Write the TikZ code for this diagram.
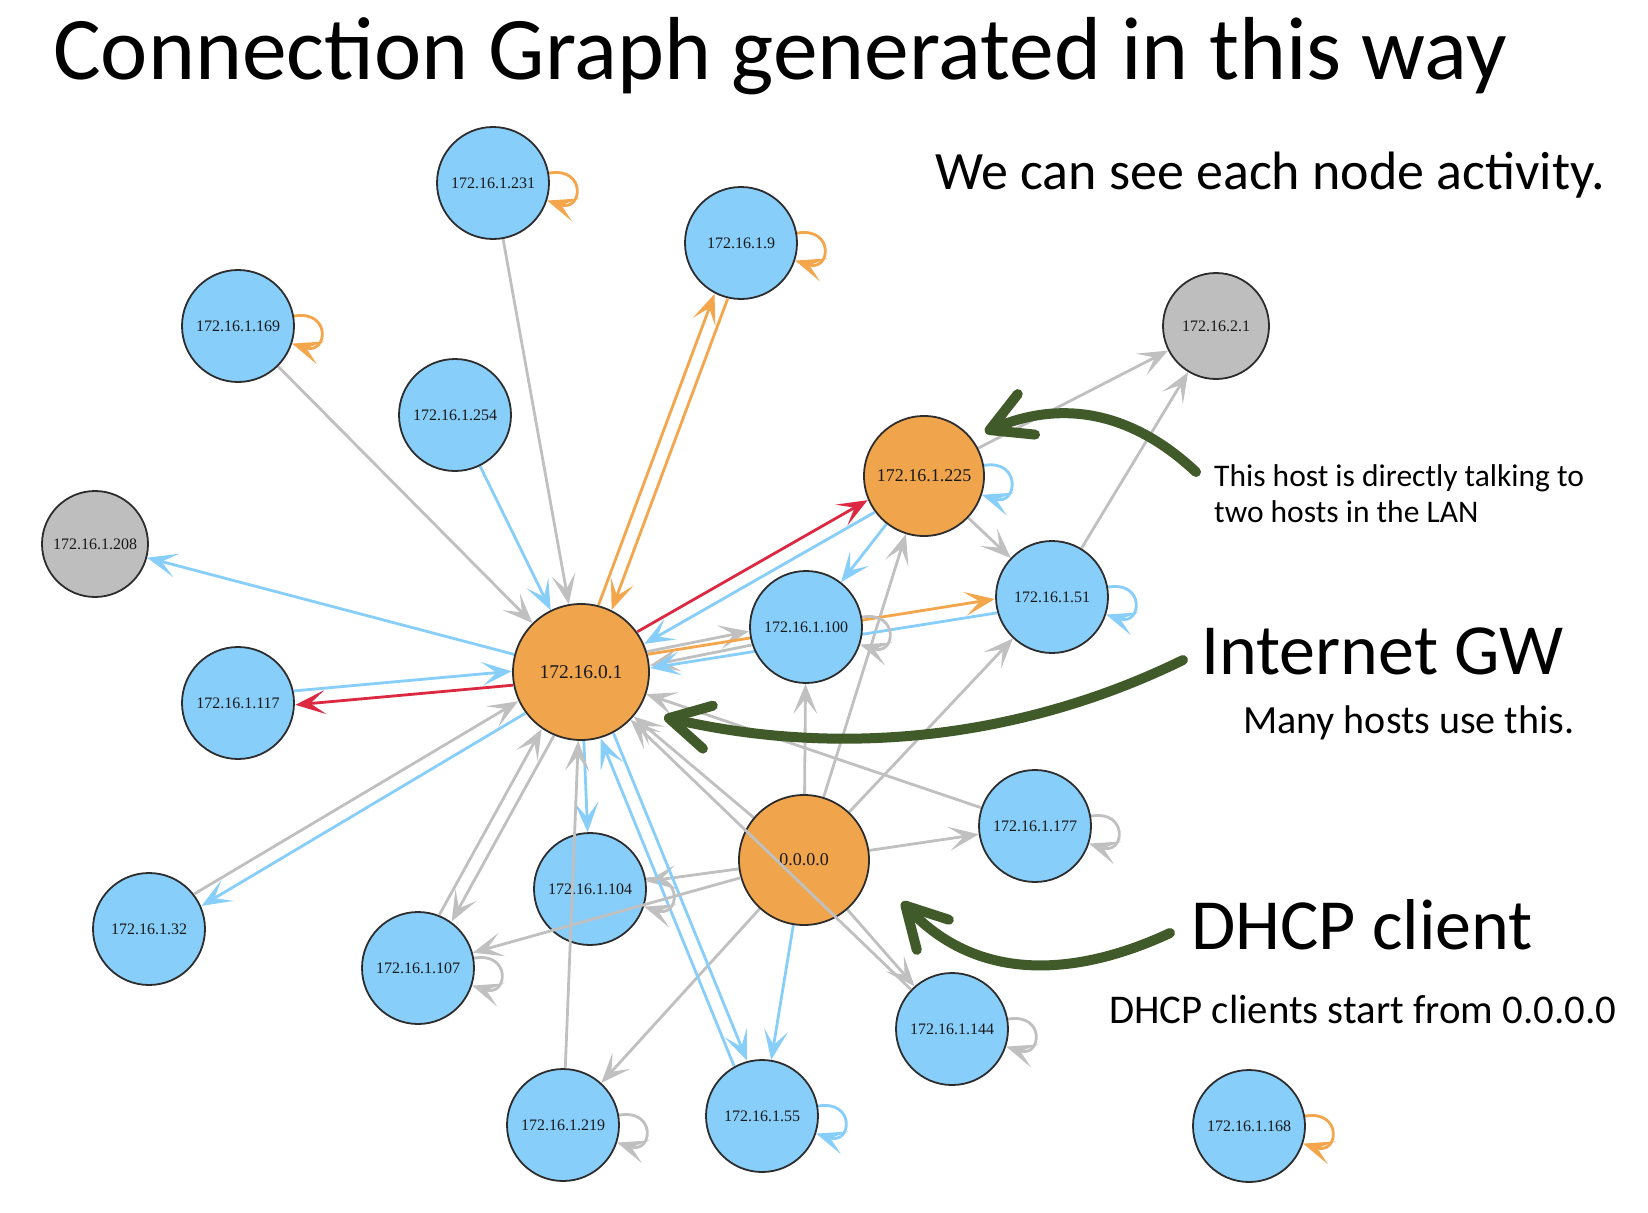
\documentclass[tikz,border=0pt]{standalone}
\usepackage{fontspec}
\setmainfont{Carlito}
\newfontfamily\lblfont{Liberation Serif}
\usetikzlibrary{arrows.meta,calc}
\definecolor{nblue}{RGB}{135,206,250}
\definecolor{norange}{RGB}{240,165,76}
\definecolor{ngrey}{RGB}{190,190,190}
\definecolor{eblue}{RGB}{135,206,250}
\definecolor{eorange}{RGB}{243,166,76}
\definecolor{ered}{RGB}{220,40,65}
\definecolor{egrey}{RGB}{192,192,192}
\definecolor{ngreen}{RGB}{65,90,42}
\definecolor{nline}{RGB}{45,45,45}
\newcommand\pedge[5]{\draw[#1, shorten <=#4, shorten >=#5] ($(#2.center)!7pt!90:(#3.center)$) -- ($(#3.center)!7pt!-90:(#2.center)$);}
\tikzset{
  host/.style={circle, draw=nline, line width=1.8pt, minimum size=112pt, inner sep=0pt,
    font=\lblfont\fontsize{16}{17}\selectfont, text=black!90, fill=nblue},
  orangehost/.style={host, fill=norange, font=\lblfont\fontsize{18}{19}\selectfont},
  greyhost/.style={host, fill=ngrey, minimum size=106pt},
  ghost/.style={draw=none, fill=none, text opacity=0},
  conn/.style={line width=2.8pt, -{Stealth[length=30pt,width=24pt,inset=15pt]}},
  gedge/.style={conn, draw=egrey},
  bedge/.style={conn, draw=eblue},
  oedge/.style={conn, draw=eorange},
  redge/.style={conn, draw=ered},
  selfloop/.style={out=10,in=-18,distance=38pt},
  note/.style={anchor=base west, inner sep=0pt, text=black},
  pointer/.style={draw=ngreen, line width=10pt, line cap=round,
    -{Straight Barb[length=40pt,width=44pt,round]}}
}
\begin{document}
\begin{tikzpicture}[x=1pt,y=1pt]
\path[use as bounding box, fill=white] (0,0) rectangle (1648,-1212);

% invisible placeholders fixing node positions (edges are drawn below the visible nodes)
\path
  (493,-183) node[host, ghost] (n231) {172.16.1.231}
  (741,-243) node[host, ghost] (n9) {172.16.1.9}
  (238,-326) node[host, ghost] (n169) {172.16.1.169}
  (455,-415) node[host, ghost] (n254) {172.16.1.254}
  (95,-544) node[greyhost, ghost] (n208) {172.16.1.208}
  (1216,-326) node[greyhost, ghost] (n21) {172.16.2.1}
  (924,-476) node[orangehost, minimum size=120pt, ghost] (n225) {172.16.1.225}
  (581,-672) node[orangehost, minimum size=136pt, ghost] (g) {172.16.0.1}
  (806,-627) node[host, ghost] (n100) {172.16.1.100}
  (1052,-597) node[host, ghost] (n51) {172.16.1.51}
  (238,-703) node[host, ghost] (n117) {172.16.1.117}
  (1035,-826) node[host, ghost] (n177) {172.16.1.177}
  (804,-860) node[orangehost, minimum size=130pt, ghost] (z) {0.0.0.0}
  (590,-889) node[host, ghost] (n104) {172.16.1.104}
  (149,-929) node[host, ghost] (n32) {172.16.1.32}
  (418,-968) node[host, ghost] (n107) {172.16.1.107}
  (952,-1029) node[host, ghost] (n144) {172.16.1.144}
  (563,-1125) node[host, ghost] (n219) {172.16.1.219}
  (762,-1116) node[host, ghost] (n55) {172.16.1.55}
  (1249,-1126) node[host, ghost] (n168) {172.16.1.168};

% edges under nodes
\draw[gedge] (n169) -- (g);
\draw[gedge] (n231) -- (g);
\draw[bedge] (n254) -- (g);
\draw[bedge] (g) -- (n208);
\draw[bedge] (n225) -- (n100);
\draw[gedge] (n225) -- (n51);
\draw[gedge] (n225) -- (n21);
\draw[gedge] (n51) -- (n21);
\draw[gedge] (z) -- (n100);
\draw[gedge] (z) -- (n225);
\draw[gedge] (z) -- (n51);
\draw[gedge] (z) -- (n177);
\draw[gedge] (z) -- (n104);
\draw[gedge] (z) -- (n219);
\draw[bedge] (z) -- (n55);
\draw[gedge] (z) -- (n144);
\draw[gedge] (z) -- (g);
\draw[gedge] (n177) -- (g);
\draw[bedge] (g) -- (n104);
\pedge{oedge}{g}{n9}{69pt}{57pt}
\pedge{oedge}{n9}{g}{57pt}{69pt}
\pedge{bedge}{n117}{g}{57pt}{69pt}
\pedge{redge}{g}{n117}{69pt}{57pt}
\pedge{gedge}{n32}{g}{57pt}{69pt}
\pedge{bedge}{g}{n32}{69pt}{57pt}
\pedge{gedge}{g}{n107}{69pt}{57pt}
\pedge{gedge}{n107}{g}{57pt}{69pt}
\pedge{bedge}{g}{n55}{69pt}{57pt}
\pedge{bedge}{n55}{g}{57pt}{69pt}
\pedge{gedge}{g}{n100}{69pt}{57pt}
\pedge{gedge}{n100}{g}{57pt}{69pt}
\pedge{oedge}{g}{n51}{69pt}{57pt}
\pedge{bedge}{n51}{g}{57pt}{69pt}
\pedge{redge}{g}{n225}{69pt}{61pt}
\pedge{bedge}{n225}{g}{61pt}{69pt}

% self loops
\draw[oedge] (n231) to[selfloop] (n231);
\draw[oedge] (n9) to[selfloop] (n9);
\draw[oedge] (n169) to[selfloop] (n169);
\draw[oedge] (n168) to[selfloop] (n168);
\draw[bedge] (n225) to[selfloop] (n225);
\draw[bedge] (n51) to[selfloop] (n51);
\draw[bedge] (n55) to[selfloop] (n55);
\draw[gedge] (n100) to[selfloop] (n100);
\draw[gedge] (n177) to[selfloop] (n177);
\draw[gedge] (n104) to[selfloop] (n104);
\draw[gedge] (n107) to[selfloop] (n107);
\draw[gedge] (n219) to[selfloop] (n219);
\draw[gedge] (n144) to[selfloop] (n144);

% visible nodes
\path
  (n231) node[host] {172.16.1.231}
  (n9) node[host] {172.16.1.9}
  (n169) node[host] {172.16.1.169}
  (n254) node[host] {172.16.1.254}
  (n208) node[greyhost] {172.16.1.208}
  (n21) node[greyhost] {172.16.2.1}
  (n225) node[orangehost, minimum size=120pt] {172.16.1.225}
  (g) node[orangehost, minimum size=136pt, font=\lblfont\fontsize{19.5}{20}\selectfont] {172.16.0.1}
  (n100) node[host] {172.16.1.100}
  (n51) node[host] {172.16.1.51}
  (n117) node[host] {172.16.1.117}
  (n177) node[host] {172.16.1.177}
  (z) node[orangehost, minimum size=130pt] {0.0.0.0}
  (n104) node[host] {172.16.1.104}
  (n32) node[host] {172.16.1.32}
  (n107) node[host] {172.16.1.107}
  (n144) node[host] {172.16.1.144}
  (n219) node[host] {172.16.1.219}
  (n55) node[host] {172.16.1.55}
  (n168) node[host] {172.16.1.168};

% edges drawn over nodes
\draw[gedge] (n219) -- (g);
\draw[gedge] (n144) -- (g);
\draw[gedge] (z) -- (n107);

% texts
\node[note, font=\fontsize{89.5}{100}\selectfont] (title) at (53,-80) {Connection Graph generated in this way};
\node[note, font=\fontsize{54}{60}\selectfont] (activity) at (935,-189) {We can see each node activity.};
\node[note, font=\fontsize{31.5}{36}\selectfont] (talk1) at (1214,-486) {This host is directly talking to};
\node[note, font=\fontsize{31.5}{36}\selectfont] (talk2) at (1214,-522) {two hosts in the LAN};
\node[note, font=\fontsize{72}{80}\selectfont] (gw) at (1201,-674) {Internet GW};
\node[note, font=\fontsize{40}{46}\selectfont] (many) at (1243,-733) {Many hosts use this.};
\node[note, font=\fontsize{72}{80}\selectfont] (dhcp) at (1191,-949) {DHCP client};
\node[note, font=\fontsize{40.8}{46}\selectfont] (dhcps) at (1109,-1023) {DHCP clients start from 0.0.0.0};

% green pointers
\coordinate (t1) at (1196,-472);
\coordinate (h1) at (985,-432);
\coordinate (t2) at (1183,-660);
\coordinate (h2) at (664,-717);
\coordinate (t3) at (1170,-933);
\coordinate (h3) at (902,-902);
\draw[pointer] (t1) .. controls (1130,-410) and (1060,-400) .. (h1);
\draw[pointer] (t2) .. controls (1030,-735) and (850,-760) .. (h2);
\draw[pointer] (t3) .. controls (1080,-975) and (980,-985) .. (h3);
\end{tikzpicture}
\end{document}
